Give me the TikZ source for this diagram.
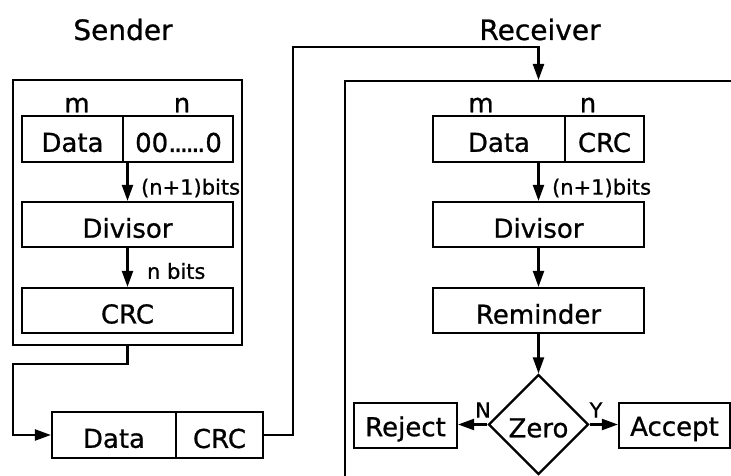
\documentclass[tikz,border=0pt]{standalone}
\usepackage{fontspec}
\setmainfont{DejaVu Sans}[FakeBold=0.8]
\usetikzlibrary{arrows.meta,shapes.geometric}

\newcommand{\boxfont}{\fontsize{26}{29}\selectfont}
\newcommand{\titlefont}{\fontsize{28}{32}\selectfont}
\newcommand{\smallfont}{\fontsize{21}{24}\selectfont}
\newcommand{\tightdots}{.\kern-2.5pt.\kern-2.5pt.\kern-2.5pt.\kern-2.5pt.\kern-2.5pt.}

\tikzset{
  txt/.style={inner sep=0pt, font=\boxfont},
  inbox/.style={txt, yshift=-3.5pt},
  frame/.style={draw, rectangle, inner sep=0pt},
  flow/.style={-{Triangle[length=16pt,width=11pt]}},
  lbl/.style={inner sep=0pt, font=\smallfont, anchor=west},
  yn/.style={inner sep=0pt, font=\smallfont}
}

\begin{document}
\begin{tikzpicture}[x=1pt,y=-1pt,line width=2.2pt]
  \useasboundingbox (0,0) rectangle (731,476);
  \clip (0,0) rectangle (731,476);

  % ---------- Sender ----------
  \node[txt, font=\titlefont, anchor=base] (stitle) at (123,40) {Sender};
  \node[frame, minimum width=229pt, minimum height=265pt] (sbox) at (127.5,212.5) {};

  \node[txt] (sm) at (77,105) {m};
  \node[txt] (sn) at (182,105) {n};
  \node[frame, minimum width=211pt, minimum height=46pt] (smsg) at (127.5,139) {};
  \draw (123,116) -- (123,162);
  \node[inbox] (sdata) at (72.5,139) {Data};
  \node[inbox] (szero) at (178.5,139) {00\tightdots0};

  \node[frame, minimum width=211pt, minimum height=45pt] (sdiv) at (127.5,224.5) {};
  \node[inbox] at (sdiv) {Divisor};
  \node[frame, minimum width=211pt, minimum height=45pt] (scrc) at (127.5,310.5) {};
  \node[inbox] at (scrc) {CRC};

  \draw[flow] (smsg.south) -- (sdiv.north);
  \node[lbl] (sl1) at (140,188) {(n+1)bits};
  \draw[flow] (sdiv.south) -- (scrc.north);
  \node[lbl] (sl2) at (146,271) {n bits};

  % ---------- Transmitted frame ----------
  \node[frame, minimum width=211pt, minimum height=46pt] (pkt) at (157.5,435) {};
  \draw (176,412) -- (176,458);
  \node[inbox] (pdata) at (114,435) {Data};
  \node[inbox] (pcrc) at (219.5,435) {CRC};

  \coordinate (bendL) at (13,364);
  \coordinate (bendR) at (293,47);
  \coordinate (rin) at (538.5,80);
  \draw[flow] (sbox.south) |- (bendL) |- (pkt.west);
  \draw[flow] (pkt.east) -| (bendR) -| (rin);

  % ---------- Receiver ----------
  \node[txt, font=\titlefont, anchor=base] (rtitle) at (540,40) {Receiver};
  \node[frame, minimum width=450pt, minimum height=450pt, anchor=north west] (rbox) at (344,80) {};

  \node[txt] (rm) at (481,105) {m};
  \node[txt] (rn) at (588,105) {n};
  \node[frame, minimum width=211pt, minimum height=46pt] (rmsg) at (538.5,139) {};
  \draw (565,116) -- (565,162);
  \node[inbox] (rdata) at (499,139) {Data};
  \node[inbox] (rcrc) at (604.5,139) {CRC};

  \node[frame, minimum width=211pt, minimum height=45pt] (rdiv) at (538.5,224.5) {};
  \node[inbox] at (rdiv) {Divisor};
  \node[frame, minimum width=211pt, minimum height=45pt] (rrem) at (538.5,310.5) {};
  \node[inbox] at (rrem) {Reminder};
  \node[draw, diamond, aspect=1, inner sep=0pt, minimum size=100pt] (zero) at (538.5,424.5) {};
  \node[inbox] at (zero) {Zero};
  \node[frame, minimum width=103pt, minimum height=45pt] (rej) at (405.5,425.5) {};
  \node[inbox] at (rej) {Reject};
  \node[frame, minimum width=111pt, minimum height=45pt] (acc) at (674.5,425.5) {};
  \node[inbox] at (acc) {Accept};

  \draw[flow] (rmsg.south) -- (rdiv.north);
  \node[lbl] (rl1) at (551,188) {(n+1)bits};
  \draw[flow] (rdiv.south) -- (rrem.north);
  \draw[flow] (rrem.south) -- (zero.north);
  \draw[flow] (zero.west) -- (rej.east |- zero.west);
  \draw[flow] (zero.east) -- (acc.west |- zero.east);
  \node[yn] (lN) at (483,410) {N};
  \node[yn] (lY) at (596,410) {Y};
\end{tikzpicture}
\end{document}
